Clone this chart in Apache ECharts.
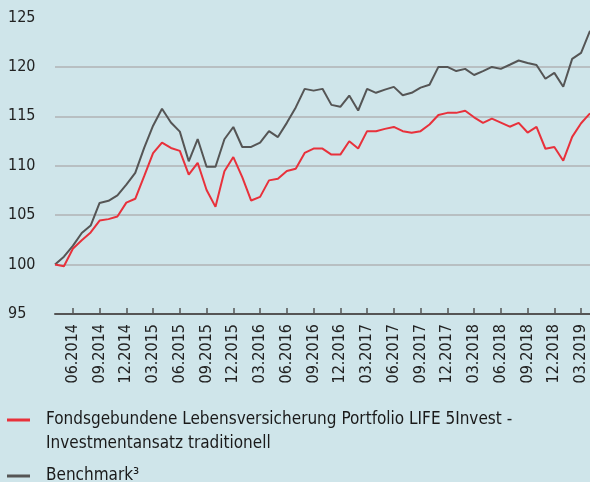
<!DOCTYPE html>
<html>
<head>
<meta charset="utf-8">
<script src="https://cdn.jsdelivr.net/npm/echarts@6/dist/echarts.min.js"></script>
<style>
html,body{margin:0;padding:0;background:#cfe5ea;}
#c{width:590px;height:482px;}
</style>
</head>
<body>
<div id="c"></div>
<script>
const months = [];
for (let y = 2014, m = 4; !(y === 2019 && m === 5); ) {
  months.push((m < 10 ? '0' : '') + m + '.' + y);
  m++; if (m > 12) { m = 1; y++; }
}
const seriesNames = ['Fondsgebundene Lebensversicherung Portfolio LIFE 5Invest -\nInvestmentansatz traditionell', 'Benchmark³'];
const fundValues = [100.0, 99.83, 101.6, 102.46, 103.25, 104.45, 104.6, 104.86, 106.27, 106.66,
  108.94, 111.27, 112.35, 111.8, 111.5, 109.1, 110.3, 107.55, 105.84, 109.44,
  110.88, 108.85, 106.48, 106.85, 108.52, 108.68, 109.47, 109.69, 111.3, 111.74,
  111.74, 111.13, 111.13, 112.48, 111.74, 113.5, 113.5, 113.73, 113.93, 113.5,
  113.33, 113.5, 114.17, 115.13, 115.35, 115.35, 115.57, 114.9, 114.34, 114.77,
  114.37, 113.95, 114.34, 113.36, 113.93, 111.72, 111.9, 110.51, 112.92, 114.3, 115.3];
const benchValues = [100.0, 100.8, 101.9, 103.2, 103.95, 106.24, 106.45, 107.0, 108.1, 109.28,
  111.8, 114.05, 115.76, 114.38, 113.45, 110.45, 112.7, 109.9, 109.9, 112.68,
  113.92, 111.9, 111.9, 112.35, 113.5, 112.9, 114.34, 115.9, 117.78, 117.6,
  117.78, 116.16, 115.96, 117.1, 115.59, 117.78, 117.38, 117.7, 117.98, 117.14,
  117.38, 117.9, 118.19, 120.0, 120.0, 119.58, 119.8, 119.18, 119.57, 120.0,
  119.8, 120.22, 120.65, 120.4, 120.2, 118.8, 119.4, 118.0, 120.81, 121.42, 123.65];
const yTicks = {min: 95, max: 125, interval: 5};

const chart = echarts.init(document.getElementById('c'));
const fontFamily = '"DejaVu Sans Condensed", "DejaVu Sans", sans-serif';
const quarterly = (idx) => (idx - 2) % 3 === 0;
chart.setOption({
  backgroundColor: '#cfe5ea',
  animation: false,
  grid: {left: 55, right: 0, top: 17.5, bottom: 168, containLabel: false},
  legend: {
    orient: 'vertical', left: 7, top: 384, padding: 0, itemGap: 8,
    icon: 'rect', itemWidth: 23, itemHeight: 3,
    formatter: (name) => name === seriesNames[0] ? '\n' + name : name,
    textStyle: {fontFamily: fontFamily, fontSize: 17, color: '#1a1a1a', lineHeight: 24, padding: [0, 0, 0, 11]},
    data: seriesNames
  },
  xAxis: {
    type: 'category', data: months, boundaryGap: false,
    axisLine: {lineStyle: {color: '#555555', width: 2}},
    axisTick: {inside: true, length: 6, interval: quarterly, lineStyle: {color: '#555555', width: 1.5}},
    axisLabel: {interval: quarterly, rotate: 90, margin: 10, fontFamily: fontFamily, fontSize: 16, color: '#222222'},
    splitLine: {show: false}
  },
  yAxis: {
    type: 'value', min: yTicks.min, max: yTicks.max, interval: yTicks.interval,
    axisLine: {show: false}, axisTick: {show: false},
    axisLabel: {align: 'left', margin: 47, fontFamily: fontFamily, fontSize: 16, color: '#222222'},
    splitLine: {show: true, showMaxLine: false, showMinLine: false, lineStyle: {color: '#b8bfc2', width: 2}}
  },
  series: [
    {name: seriesNames[0], type: 'line', data: fundValues, symbol: 'none', z: 3,
     lineStyle: {color: '#e8313b', width: 2}, itemStyle: {color: '#e8313b'}},
    {name: seriesNames[1], type: 'line', data: benchValues, symbol: 'none', z: 2,
     lineStyle: {color: '#555555', width: 2}, itemStyle: {color: '#555555'}}
  ]
});
</script>
</body>
</html>
